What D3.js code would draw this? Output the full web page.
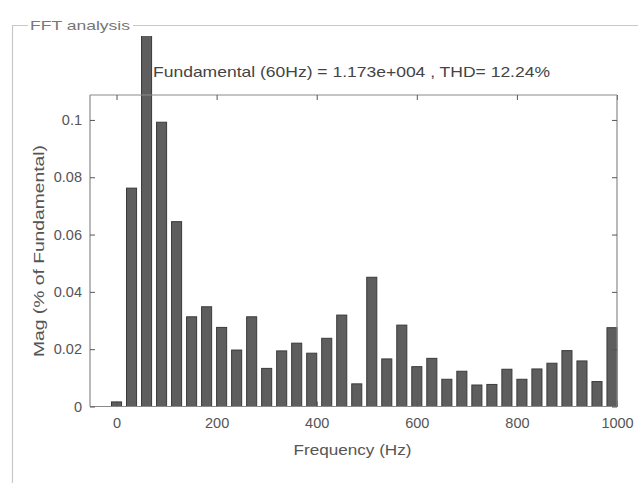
<!DOCTYPE html>
<html>
<head>
<meta charset="utf-8">
<script src="https://cdn.jsdelivr.net/npm/d3@7"></script>
<style>
  html, body { margin: 0; padding: 0; background: #fff; }
  svg { display: block; }
  text { font-family: "Liberation Sans", Arial, sans-serif; }
</style>
</head>
<body>
<svg id="chart" width="638" height="486"></svg>
<script>
// ---- data ----
const frequencies = [0, 30, 60, 90, 120, 150, 180, 210, 240, 270, 300, 330, 360, 390, 420, 450, 480, 510, 540, 570, 600, 630, 660, 690, 720, 750, 780, 810, 840, 870, 900, 930, 960, 990];
const magnitudes = [0.0016, 0.0762, 1.0, 0.0992, 0.0645, 0.0313, 0.0348, 0.0276, 0.0197, 0.0313, 0.0133, 0.0194, 0.0221, 0.0186, 0.0238, 0.0319, 0.0079, 0.0451, 0.0166, 0.0284, 0.0139, 0.0168, 0.0095, 0.0123, 0.0075, 0.0077, 0.0130, 0.0095, 0.0131, 0.0151, 0.0195, 0.0159, 0.0087, 0.0275];
const xTicks = [0, 200, 400, 600, 800, 1000];
const yTicks = [0, 0.02, 0.04, 0.06, 0.08, 0.1];
const yTickLabels = ["0", "0.02", "0.04", "0.06", "0.08", "0.1"];
const panelTitle = "FFT analysis";
const chartTitle = "Fundamental (60Hz) = 1.173e+004 , THD= 12.24%";
const xLabel = "Frequency (Hz)";
const yLabel = "Mag (% of Fundamental)";

(function () {
// ---- layout ----
const svg = d3.select("#chart");
const pL = 90, pR = 617, pT = 95, pB = 406.5;
const x = d3.scaleLinear().domain([-53, 1000]).range([pL, pR]);
const y = d3.scaleLinear().domain([0, 0.1087]).range([pB, pT]);
const axisColor = "#8a8a8a";
const textColor = "#555";

// panel border
svg.append("path")
  .attr("d", `M12.5,483 V25.5 H28 M133,25.5 H638`)
  .attr("fill", "none").attr("stroke", "#c8c8c8").attr("stroke-width", 1.2);
svg.append("text").attr("x", 30).attr("y", 30)
  .attr("font-size", 13.5).attr("fill", "#777")
  .attr("textLength", 100).attr("lengthAdjust", "spacingAndGlyphs")
  .text(panelTitle);

// clip for bars (fundamental goes beyond the axes)
svg.append("clipPath").attr("id", "barclip")
  .append("rect").attr("x", 0).attr("y", 36).attr("width", 638).attr("height", 450);

const bw = (x(30) - x(0)) * 0.67;
svg.append("g").attr("clip-path", "url(#barclip)")
  .selectAll("rect").data(frequencies).join("rect")
  .attr("x", (d) => x(d) - bw / 2)
  .attr("y", (d, i) => y(magnitudes[i]))
  .attr("width", bw)
  .attr("height", (d, i) => pB - y(magnitudes[i]))
  .attr("fill", "#5e5e5e")
  .attr("stroke", "#3a3a3a")
  .attr("stroke-width", 1);

// axes (box with inward ticks)
const gB = svg.append("g").attr("transform", `translate(0,${pB})`)
  .call(d3.axisBottom(x).tickValues(xTicks).tickSizeInner(-5).tickSizeOuter(0).tickPadding(11).tickFormat(d3.format("d")));
const gT = svg.append("g").attr("transform", `translate(0,${pT})`)
  .call(d3.axisTop(x).tickValues(xTicks).tickSizeInner(-5).tickSizeOuter(0).tickFormat(""));
const gL = svg.append("g").attr("transform", `translate(${pL},0)`)
  .call(d3.axisLeft(y).tickValues(yTicks).tickSizeInner(-5).tickSizeOuter(0).tickPadding(8).tickFormat((d, i) => yTickLabels[i]));
const gR = svg.append("g").attr("transform", `translate(${pR},0)`)
  .call(d3.axisRight(y).tickValues(yTicks).tickSizeInner(-5).tickSizeOuter(0).tickFormat(""));
[gB, gT, gL, gR].forEach((g) => {
  g.select(".domain").attr("stroke", axisColor).attr("stroke-width", 1.2);
  g.selectAll(".tick line").attr("stroke", "#555");
  g.selectAll(".tick text").attr("fill", textColor).attr("font-size", 14.5)
    .attr("font-family", "'Liberation Sans', Arial, sans-serif");
});
gB.select(".domain").attr("d", `M${pL},0H${pR}`);
gT.select(".domain").attr("d", `M${pL},0H${pR}`);
gL.select(".domain").attr("d", `M0,${pB}V${pT}`);
gR.select(".domain").attr("d", `M0,${pB}V${pT}`);

// title
svg.append("text").attr("x", 153).attr("y", 77)
  .attr("font-size", 14.5).attr("fill", "#444")
  .attr("textLength", 397).attr("lengthAdjust", "spacingAndGlyphs")
  .text(chartTitle);

// x label
svg.append("text").attr("x", 352.5).attr("y", 455).attr("text-anchor", "middle")
  .attr("font-size", 14.5).attr("fill", textColor)
  .attr("textLength", 118).attr("lengthAdjust", "spacingAndGlyphs")
  .text(xLabel);

// y label
svg.append("text").attr("transform", `translate(44,251) rotate(-90)`).attr("text-anchor", "middle")
  .attr("font-size", 14.5).attr("fill", textColor)
  .attr("textLength", 212).attr("lengthAdjust", "spacingAndGlyphs")
  .text(yLabel);
})();
</script>
</body>
</html>
